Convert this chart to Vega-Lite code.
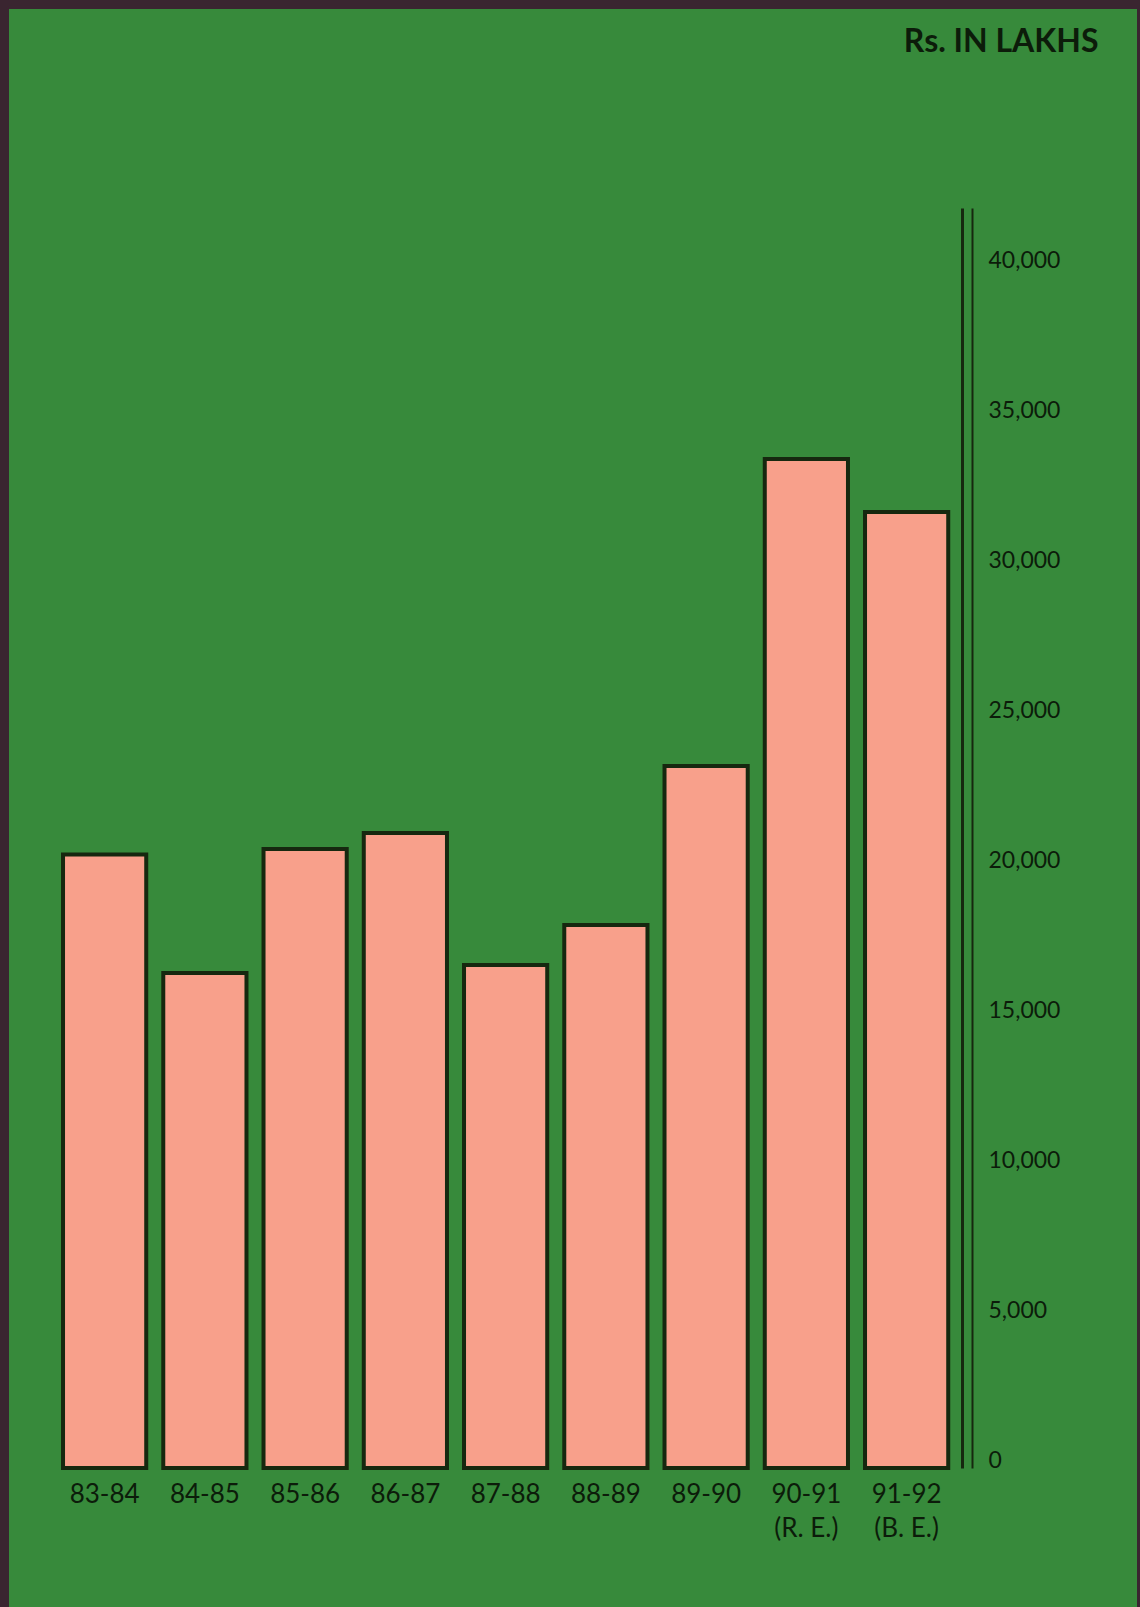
{
  "$schema": "https://vega.github.io/schema/vega-lite/v6.json",
  "width": 1128,
  "height": 1598,
  "padding": {"left": 9, "top": 9, "right": 3, "bottom": 0},
  "background": "#3a2530",
  "config": {
    "view": {"fill": "#378a3b", "stroke": null},
    "font": "Lato"
  },
  "data": {
    "values": [
      {"year": "83-84", "value": 20450},
      {"year": "84-85", "value": 16500},
      {"year": "85-86", "value": 20630},
      {"year": "86-87", "value": 21170},
      {"year": "87-88", "value": 16770},
      {"year": "88-89", "value": 18100},
      {"year": "89-90", "value": 23400},
      {"year": "90-91 (R. E.)", "value": 33630},
      {"year": "91-92 (B. E.)", "value": 31870}
    ]
  },
  "resolve": {"axis": {"y": "independent"}},
  "layer": [
    {
      "mark": {"type": "bar", "fill": "#f8a08b", "stroke": "#16280f", "strokeWidth": 4},
      "encoding": {
        "x": {
          "field": "year",
          "type": "nominal",
          "sort": null,
          "scale": {"range": [45.5, 947.75], "paddingInner": 0.17, "paddingOuter": 0.085},
          "axis": {
            "orient": "bottom",
            "offset": -139,
            "domain": false,
            "ticks": false,
            "title": null,
            "labelAngle": 0,
            "labelFontSize": 26,
            "labelColor": "#0c1c0a",
            "labelPadding": 13,
            "labelLineHeight": 34,
            "labelBaseline": "top",
            "labelExpr": "indexof(datum.label, ' (') > 0 ? [substring(datum.label, 0, indexof(datum.label, ' (')), substring(datum.label, indexof(datum.label, ' (') + 1)] : datum.label"
          }
        },
        "y": {
          "field": "value",
          "type": "quantitative",
          "scale": {"domain": [0, 42000], "range": [1459, 199], "nice": false},
          "axis": {
            "orient": "right",
            "offset": -175,
            "values": [0, 5000, 10000, 15000, 20000, 25000, 30000, 35000, 40000],
            "format": ",d",
            "grid": false,
            "ticks": false,
            "domainColor": "#16280f",
            "domainWidth": 3,
            "labelFontSize": 23,
            "labelColor": "#0c1c0a",
            "labelPadding": 26,
            "labelOffset": -8,
            "labelBaseline": "middle",
            "labelAlign": "left",
            "title": "Rs. IN LAKHS",
            "titleAngle": 0,
            "titleX": 136,
            "titleY": 42,
            "titleAlign": "right",
            "titleBaseline": "alphabetic",
            "titleFontSize": 32,
            "titleFontWeight": "bold",
            "titleColor": "#0c1c0a"
          }
        }
      }
    },
    {
      "mark": {"type": "bar", "opacity": 0},
      "encoding": {
        "x": {"field": "year", "type": "nominal", "sort": null},
        "y": {
          "field": "value",
          "type": "quantitative",
          "axis": {
            "orient": "left",
            "offset": -963,
            "labels": false,
            "ticks": false,
            "grid": false,
            "title": null,
            "domainColor": "#16280f",
            "domainWidth": 2
          }
        }
      }
    }
  ]
}
